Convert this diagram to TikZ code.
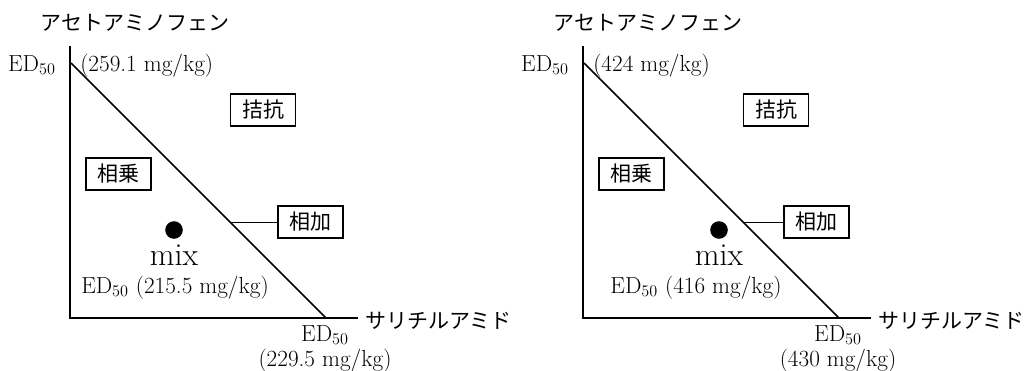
\documentclass[tikz,border=0pt]{standalone}
\usepackage{fontspec}
\newfontfamily\jpfont{Noto Sans CJK JP}
\usetikzlibrary{positioning}
\newcommand{\latfont}{\fontsize{17.4}{20}\selectfont}
\newcommand{\kanafont}{\jpfont\fontsize{15.75}{18}\selectfont}
\newcommand{\mixfont}{\fontsize{24}{28}\selectfont}
\tikzset{
  every node/.style={inner sep=0pt, font=\latfont},
  axisline/.style={line width=1.3pt},
  effbox/.style={draw, line width=0.9pt, font=\kanafont, minimum width=48.75pt, minimum height=24pt},
  axislabel/.style={font=\kanafont},
  mixdot/.style={circle, fill=black, minimum size=13.2pt}
}

\begin{document}
\begin{tikzpicture}[x=0.75pt, y=-0.75pt]
  \useasboundingbox (0,0) rectangle (1026,371);
  % panel offset / dot x / mix ED x / add box x / y ED50 / x ED50 / mix ED50
  \foreach \ox/\dx/\mx/\bx/\yv/\xv/\mv in {0/174/175/310.5/259.1/229.5/215.5, 513/206/183/303.5/424/430/416}{
    \begin{scope}[shift={(\ox,0)}]
      \draw[axisline] (70,46) -- (70,318) -- (358,318);
      \draw[axisline] (71,63) -- (326,318);

      \node[axislabel] (acet\ox) at (135,23) {アセトアミノフェン};
      \node[anchor=base east] (yed\ox) at (56,71) {ED\textsubscript{50}};
      \node[anchor=base west] (yval\ox) at (80,71) {(\yv\ mg/kg)};

      \node[effbox] (kikko\ox) at (263,110) {拮抗};
      \node[effbox] (sojo\ox) at (118.5,174) {相乗};
      \node[effbox] (soka\ox) at (\bx,222) {相加};
      \coordinate (onl\ox) at (230,222);
      \draw[line width=0.75pt] (onl\ox) -- (soka\ox);

      \node[mixdot] (mix\ox) at (\dx,230) {};
      \node[anchor=base, font=\mixfont] (mixlbl\ox) at (\dx,265) {mix};
      \node[anchor=base] (mixed\ox) at (\mx,293) {ED\textsubscript{50} (\mv\ mg/kg)};

      \node[anchor=base] (xed\ox) at (325,341) {ED\textsubscript{50}};
      \node[anchor=base] (xval\ox) at (325,366) {(\xv\ mg/kg)};
      \node[axislabel, anchor=west] (sal\ox) at (365,321) {サリチルアミド};
    \end{scope}
  }
\end{tikzpicture}
\end{document}
